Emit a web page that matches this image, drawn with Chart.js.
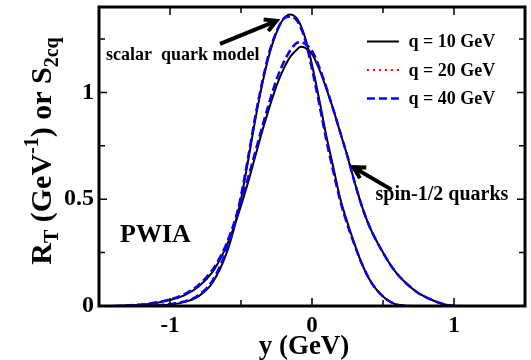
<!DOCTYPE html>
<html>
<head>
<meta charset="utf-8">
<script src="https://cdn.jsdelivr.net/npm/chart.js@4.4.1/dist/chart.umd.min.js"></script>
<style>
  html, body { margin: 0; padding: 0; background: #fff; }
  #wrap { width: 531px; height: 360px; }
</style>
</head>
<body>
<div id="wrap"><canvas id="chartRT" width="531" height="360"></canvas></div>
<script>
// scalar quark model: y grid (GeV) and response for each q
const scalarGrid = [-1.35, -1.2, -1.1, -1.0, -0.9, -0.8, -0.7, -0.6, -0.55, -0.5, -0.45, -0.4, -0.35, -0.3, -0.25, -0.2, -0.155, -0.1, -0.05, 0, 0.05, 0.1, 0.15, 0.2, 0.25, 0.3, 0.35, 0.4, 0.45, 0.5, 0.55, 0.6, 0.65, 0.7];
const scalarQ10 = [0, 0.001, 0.003, 0.007, 0.018, 0.045, 0.11, 0.25, 0.36, 0.5, 0.68, 0.87, 1.04, 1.18, 1.28, 1.345, 1.365, 1.34, 1.26, 1.13, 0.97, 0.8, 0.65, 0.5, 0.39, 0.29, 0.2, 0.13, 0.08, 0.045, 0.02, 0.006, 0.001, 0];
const scalarQ20 = [0, 0.001, 0.004, 0.009, 0.021, 0.05, 0.12, 0.265, 0.375, 0.515, 0.695, 0.885, 1.05, 1.19, 1.285, 1.345, 1.357, 1.33, 1.25, 1.11, 0.95, 0.78, 0.63, 0.49, 0.38, 0.285, 0.2, 0.13, 0.08, 0.045, 0.02, 0.006, 0.001, 0];
const scalarQ40 = [0, 0.001, 0.004, 0.009, 0.021, 0.05, 0.12, 0.265, 0.375, 0.515, 0.695, 0.885, 1.05, 1.19, 1.285, 1.345, 1.356, 1.33, 1.25, 1.11, 0.95, 0.78, 0.63, 0.49, 0.38, 0.285, 0.2, 0.13, 0.08, 0.045, 0.02, 0.006, 0.001, 0];

// spin-1/2 quarks
const spinGrid = [-1.4, -1.2, -1.1, -1.0, -0.9, -0.8, -0.7, -0.65, -0.6, -0.55, -0.5, -0.45, -0.4, -0.35, -0.3, -0.25, -0.2, -0.15, -0.1, -0.08, -0.05, 0, 0.05, 0.1, 0.15, 0.2, 0.25, 0.3, 0.35, 0.4, 0.45, 0.5, 0.55, 0.6, 0.65, 0.7, 0.75, 0.8, 0.85, 0.9, 0.95, 1.0, 1.05];
const spinQ10 = [0, 0.006, 0.014, 0.028, 0.05, 0.09, 0.16, 0.215, 0.285, 0.37, 0.47, 0.58, 0.7, 0.82, 0.93, 1.03, 1.11, 1.17, 1.205, 1.214, 1.21, 1.18, 1.11, 1.02, 0.92, 0.81, 0.7, 0.58, 0.47, 0.38, 0.31, 0.25, 0.195, 0.15, 0.115, 0.085, 0.06, 0.042, 0.027, 0.014, 0.005, 0.001, 0];
const spinQ20 = [0, 0.007, 0.016, 0.031, 0.055, 0.097, 0.17, 0.225, 0.295, 0.385, 0.49, 0.6, 0.72, 0.84, 0.955, 1.06, 1.14, 1.2, 1.233, 1.234, 1.227, 1.195, 1.12, 1.025, 0.92, 0.81, 0.7, 0.58, 0.47, 0.38, 0.31, 0.25, 0.195, 0.15, 0.115, 0.085, 0.06, 0.042, 0.027, 0.014, 0.005, 0.001, 0];
const spinQ40 = [0, 0.007, 0.016, 0.031, 0.055, 0.097, 0.17, 0.225, 0.295, 0.385, 0.49, 0.6, 0.72, 0.84, 0.955, 1.06, 1.14, 1.2, 1.234, 1.235, 1.228, 1.195, 1.12, 1.025, 0.92, 0.81, 0.7, 0.58, 0.47, 0.38, 0.31, 0.25, 0.195, 0.15, 0.115, 0.085, 0.06, 0.042, 0.027, 0.014, 0.005, 0.001, 0];

const xTicks = [-1, 0, 1];
const yTicks = [0, 0.5, 1];
const legendLabels = ['q = 10 GeV', 'q = 20 GeV', 'q = 40 GeV'];

const SERIF = '"Liberation Serif", "DejaVu Serif", serif';
const styles = [
  { color: '#000000', dash: [], width: 2 },
  { color: '#ff0000', dash: [2, 4], width: 2 },
  { color: '#0000ff', dash: [8, 4], width: 2.5 }
];

function pts(grid, vals) {
  return grid.map((x, i) => ({ x: x, y: vals[i] }));
}

function curve(grid, vals, k) {
  return {
    data: pts(grid, vals),
    borderColor: styles[k].color,
    borderDash: styles[k].dash,
    borderWidth: styles[k].width,
    pointRadius: 0,
    fill: false,
    cubicInterpolationMode: 'monotone',
    order: 3 - k
  };
}

const series = [
  [scalarQ10, scalarQ20, scalarQ40],
  [spinQ10, spinQ20, spinQ40]
];
let datasets = [];
for (let k = 0; k < 3; k++) {
  datasets.push(curve(scalarGrid, series[0][k], k));
  datasets.push(curve(spinGrid, series[1][k], k));
}

function arrow(ctx, x0, y0, x1, y1) {
  const a = Math.atan2(y1 - y0, x1 - x0);
  const h = 13;
  ctx.beginPath();
  ctx.moveTo(x0, y0);
  ctx.lineTo(x1, y1);
  ctx.moveTo(x1 - h * Math.cos(a - 0.5), y1 - h * Math.sin(a - 0.5));
  ctx.lineTo(x1, y1);
  ctx.lineTo(x1 - h * Math.cos(a + 0.5), y1 - h * Math.sin(a + 0.5));
  ctx.stroke();
}

const decorations = {
  id: 'decorations',
  afterDraw(chart) {
    const ctx = chart.ctx;
    const xs = chart.scales.x, ys = chart.scales.y;
    const area = chart.chartArea;
    const px = v => xs.getPixelForValue(v);
    const py = v => ys.getPixelForValue(v);

    ctx.save();
    ctx.strokeStyle = '#000';
    ctx.fillStyle = '#000';
    ctx.lineCap = 'butt';

    // inward ticks on all four sides
    ctx.lineWidth = 1.5;
    ctx.beginPath();
    for (let v = -1.5; v <= 1.5001; v += 0.5) {
      const len = Math.abs(v - Math.round(v)) < 1e-6 ? 8 : 6;
      const x = px(v);
      ctx.moveTo(x, area.bottom); ctx.lineTo(x, area.bottom - len);
      ctx.moveTo(x, area.top); ctx.lineTo(x, area.top + len);
    }
    for (let v = 0; v <= 1.4; v += 0.25) {
      const len = Math.abs(v * 2 - Math.round(v * 2)) < 1e-6 ? 8 : 6;
      const y = py(v);
      ctx.moveTo(area.left, y); ctx.lineTo(area.left + len, y);
      ctx.moveTo(area.right, y); ctx.lineTo(area.right - len, y);
    }
    ctx.stroke();

    // frame
    ctx.lineWidth = 3;
    ctx.strokeRect(area.left, area.top, area.right - area.left, area.bottom - area.top);

    // legend
    ctx.font = 'bold 18px ' + SERIF;
    ctx.textBaseline = 'middle';
    ctx.textAlign = 'left';
    const rows = [1.238, 1.105, 0.972];
    legendLabels.forEach((lab, k) => {
      const y = py(rows[k]);
      ctx.save();
      ctx.strokeStyle = styles[k].color;
      ctx.lineWidth = styles[k].width;
      ctx.setLineDash(styles[k].dash);
      ctx.beginPath();
      ctx.moveTo(px(0.387), y);
      ctx.lineTo(px(0.612), y);
      ctx.stroke();
      ctx.restore();
      ctx.fillText(lab, px(0.68), y + 1);
    });

    // annotations
    ctx.font = 'bold 18px ' + SERIF;
    ctx.fillText('scalar  quark model', px(-1.45), py(1.175));
    ctx.font = 'bold 20px ' + SERIF;
    ctx.fillText('spin-1/2 quarks', px(0.447), py(0.52));
    ctx.font = 'bold 26px ' + SERIF;
    ctx.fillText('PWIA', px(-1.352), py(0.331));

    ctx.lineWidth = 4;
    arrow(ctx, px(-0.648), py(1.227), px(-0.25), py(1.335));
    arrow(ctx, px(0.56), py(0.545), px(0.291), py(0.65));

    // x axis title
    ctx.font = 'bold 27px ' + SERIF;
    ctx.textAlign = 'center';
    ctx.textBaseline = 'alphabetic';
    ctx.fillText('y (GeV)', 304, 354);

    // y axis title with sub/superscripts
    const parts = [
      ['R', 0], ['T', 1], [' (GeV', 0], ['-1', -1], [') or S', 0], ['2cq', 1]
    ];
    const big = 'bold 30px ' + SERIF, small = 'bold 20px ' + SERIF;
    let total = 0;
    parts.forEach(p => { ctx.font = p[1] ? small : big; total += ctx.measureText(p[0]).width; });
    ctx.translate(51, 151);
    ctx.rotate(-Math.PI / 2);
    ctx.textAlign = 'left';
    let cx = -total / 2;
    parts.forEach(p => {
      ctx.font = p[1] ? small : big;
      const dy = p[1] === 1 ? 7 : (p[1] === -1 ? -13 : 0);
      ctx.fillText(p[0], cx, dy);
      cx += ctx.measureText(p[0]).width;
    });
    ctx.restore();
  }
};

new Chart(document.getElementById('chartRT'), {
  type: 'line',
  data: { datasets: datasets },
  plugins: [decorations],
  options: {
    responsive: false,
    animation: false,
    layout: { padding: { top: 7, right: 6, left: 0, bottom: 0 } },
    plugins: { legend: { display: false }, tooltip: { enabled: false } },
    scales: {
      x: {
        type: 'linear',
        min: -1.5,
        max: 1.5,
        grid: { display: false, drawTicks: false },
        border: { display: false },
        afterBuildTicks: s => { s.ticks = xTicks.map(v => ({ value: v })); },
        afterFit: s => { s.height = 54; s.paddingLeft = 0; s.paddingRight = 0; },
        ticks: {
          color: '#000',
          padding: 6,
          maxRotation: 0,
          font: { family: SERIF, size: 23, weight: 'bold' },
          callback: v => String(v)
        }
      },
      y: {
        type: 'linear',
        min: 0,
        max: 1.4,
        grid: { display: false, drawTicks: false },
        border: { display: false },
        afterBuildTicks: s => { s.ticks = yTicks.map(v => ({ value: v })); },
        afterFit: s => { s.width = 99; s.paddingTop = 0; s.paddingBottom = 0; },
        ticks: {
          color: '#000',
          padding: 5,
          font: { family: SERIF, size: 24, weight: 'bold' },
          callback: v => String(v)
        }
      }
    }
  }
});
</script>
</body>
</html>
